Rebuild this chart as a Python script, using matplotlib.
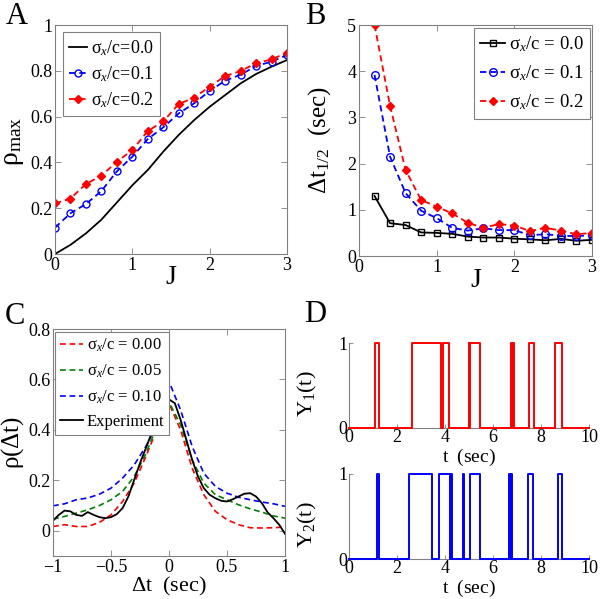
import numpy as np
import matplotlib
matplotlib.use("Agg")
import matplotlib.pyplot as plt

plt.rcParams["font.family"] = ["Liberation Serif", "DejaVu Serif"]
plt.rcParams["mathtext.fontset"] = "custom"
plt.rcParams["mathtext.rm"] = "Liberation Serif"
plt.rcParams["mathtext.it"] = "Liberation Serif:italic"
plt.rcParams["mathtext.bf"] = "Liberation Serif:bold"

# ---- panel A: rho_max vs J
J_a = [0.0, 0.2, 0.4, 0.6, 0.8, 1.0, 1.2, 1.4, 1.6, 1.8, 2.0, 2.2, 2.4, 2.6, 2.8, 3.0]
rho_s00 = [0.0, 0.04, 0.09, 0.15, 0.225, 0.30, 0.367, 0.447, 0.52, 0.585, 0.643, 0.694,
           0.745, 0.786, 0.818, 0.847]
rho_s01 = [0.115, 0.178, 0.218, 0.275, 0.361, 0.425, 0.502, 0.553, 0.614, 0.658, 0.712,
           0.757, 0.783, 0.821, 0.84, 0.869]
rho_s02 = [0.221, 0.242, 0.306, 0.342, 0.403, 0.454, 0.537, 0.579, 0.655, 0.683, 0.731,
           0.777, 0.799, 0.833, 0.85, 0.879]

# ---- panel B: half-width vs J
J_b = [0.2, 0.4, 0.6, 0.8, 1.0, 1.2, 1.4, 1.6, 1.8, 2.0, 2.2, 2.4, 2.6, 2.8, 3.0]
dt_s00 = [1.30, 0.71, 0.67, 0.51, 0.50, 0.48, 0.42, 0.40, 0.40, 0.375, 0.36, 0.34, 0.37, 0.33, 0.35]
dt_s01 = [3.92, 2.15, 1.36, 0.98, 0.82, 0.61, 0.55, 0.60, 0.56, 0.56, 0.45, 0.47, 0.44, 0.43, 0.45]
dt_s02 = [5.0, 3.25, 1.86, 1.21, 1.07, 0.92, 0.72, 0.61, 0.69, 0.66, 0.54, 0.61, 0.55, 0.47, 0.50]

# ---- panel C: cross-correlation vs lag
lag_model = [-1.0, -0.9, -0.8, -0.7, -0.6, -0.5, -0.4, -0.3, -0.2, -0.1, 0.0,
             0.1, 0.2, 0.3, 0.4, 0.5, 0.6, 0.7, 0.8, 0.9, 1.0]
cc_s000 = [0.017, 0.024, 0.017, 0.017, 0.033, 0.063, 0.116, 0.189, 0.294, 0.407, 0.505,
           0.40, 0.248, 0.143, 0.077, 0.044, 0.024, 0.012, 0.011, 0.012, 0.015]
cc_s005 = [0.046, 0.057, 0.07, 0.083, 0.10, 0.123, 0.156, 0.215, 0.305, 0.42, 0.51,
           0.42, 0.281, 0.189, 0.143, 0.123, 0.103, 0.087, 0.074, 0.059, 0.05]
cc_s010 = [0.099, 0.107, 0.123, 0.13, 0.145, 0.169, 0.209, 0.261, 0.334, 0.426, 0.592,
           0.479, 0.334, 0.228, 0.176, 0.149, 0.133, 0.123, 0.114, 0.107, 0.097]
lag_exp = [-1.0, -0.95, -0.9, -0.85, -0.8, -0.75, -0.7, -0.65, -0.6, -0.55, -0.5,
           -0.45, -0.4, -0.35, -0.3, -0.25, -0.2, -0.15, -0.1, -0.05, 0.0,
           0.05, 0.1, 0.15, 0.2, 0.25, 0.3, 0.35, 0.4, 0.45, 0.5,
           0.55, 0.6, 0.65, 0.7, 0.75, 0.8, 0.85, 0.9, 0.95, 1.0]
cc_exp = [0.04, 0.063, 0.08, 0.077, 0.063, 0.059, 0.074, 0.063, 0.054, 0.05, 0.054,
          0.066, 0.09, 0.136, 0.202, 0.268, 0.327, 0.387, 0.442, 0.495, 0.521,
          0.506, 0.44, 0.36, 0.281, 0.215, 0.169, 0.143, 0.129, 0.119, 0.116,
          0.125, 0.136, 0.147, 0.149, 0.136, 0.11, 0.073, 0.05, 0.024, -0.012]

# ---- panel D: binary traces (switch-on / switch-off times, sec)
y1_on = [1.08, 2.61, 3.93, 4.98, 5.06, 6.73, 6.82, 7.50, 8.58]
y1_off = [1.26, 3.85, 4.15, 5.02, 5.46, 6.78, 6.86, 7.69, 8.86]
y2_on = [1.15, 2.52, 3.77, 4.26, 4.75, 5.04, 6.66, 6.75, 7.45, 8.70]
y2_off = [1.27, 3.47, 4.22, 4.31, 4.81, 5.45, 6.71, 6.81, 7.68, 8.87]

SPINE = "#808080"
DASH = (0, (3.5, 2.2))
SIG = r"$\mathrm{\sigma}_{x}$/c"


def style_box(ax):
    for s in ax.spines.values():
        s.set_color(SPINE)
        s.set_linewidth(0.8)
    ax.tick_params(direction="in", top=True, right=True, length=4, width=0.6,
                   color=SPINE, labelsize=13, pad=2)


def frame(lg):
    lg.get_frame().set_edgecolor(SPINE)
    lg.get_frame().set_linewidth(0.8)


def steps(on, off, t_end=10.0):
    t, y = [0.0], [0]
    for a, b in zip(on, off):
        t += [a, a, b, b]
        y += [0, 1, 1, 0]
    t.append(t_end)
    y.append(0)
    return t, y


fig = plt.figure(figsize=(6, 5.99), dpi=100)
W, H = 600.0, 599.0


def pos(x0, x1, y0, y1):
    return [x0 / W, 1 - y1 / H, (x1 - x0) / W, (y1 - y0) / H]


# ---------------- A
axA = fig.add_axes(pos(55, 287, 25, 254))
axA.plot(J_a, rho_s00, "-", color="k", lw=1.3, label=SIG + "=0.0")
axA.plot(J_a, rho_s01, linestyle=DASH, color="#0000ff", lw=1.3, marker="o", ms=5,
         mfc="none", mew=1.0, label=SIG + "=0.1")
axA.plot(J_a, rho_s02, linestyle=DASH, color="#ff0000", lw=1.3, marker="D", ms=4.5,
         mfc="#ff0000", label=SIG + "=0.2")
axA.set_xlim(0, 3)
axA.set_ylim(0, 1)
axA.set_xticks([0, 1, 2, 3])
axA.set_yticks([0, 0.2, 0.4, 0.6, 0.8, 1])
axA.set_yticklabels(["0", "0.2", "0.4", "0.6", "0.8", "1"])
style_box(axA)
axA.set_xlabel("J", fontsize=20)
axA.set_ylabel(r"$\mathrm{\rho_{max}}$", fontsize=20)
axA.xaxis.set_label_coords(0.5, -0.05)
axA.yaxis.set_label_coords(-0.125, 0.49)
frame(axA.legend(loc="upper left", bbox_to_anchor=(0.034, 0.969), borderaxespad=0,
                 fontsize=13, handlelength=1.0, handletextpad=0.2, labelspacing=0.35,
                 fancybox=False, framealpha=1, borderpad=0.35))

# ---------------- B
axB = fig.add_axes(pos(359, 592, 25, 256))
axB.plot(J_b, dt_s00, "-", color="k", lw=1.3, marker="s", ms=5, mfc="none", mew=1.0,
         label=SIG + " = 0.0")
axB.plot(J_b, dt_s01, linestyle=DASH, color="#0000ff", lw=1.3, marker="o", ms=5.5,
         mfc="none", mew=1.0, label=SIG + " = 0.1")
axB.plot(J_b, dt_s02, linestyle=DASH, color="#ff0000", lw=1.3, marker="D", ms=4.5,
         mfc="#ff0000", label=SIG + " = 0.2")
axB.set_xlim(0, 3)
axB.set_ylim(0, 5)
axB.set_xticks([0, 1, 2, 3])
axB.set_yticks([0, 1, 2, 3, 4, 5])
style_box(axB)
axB.set_xlabel("J", fontsize=20)
axB.set_ylabel(r"$\mathrm{\Delta t_{1/2}\ \ (sec)}$", fontsize=18)
axB.xaxis.set_label_coords(0.5, -0.05)
axB.yaxis.set_label_coords(-0.11, 0.5)
frame(axB.legend(loc="upper right", bbox_to_anchor=(0.991, 0.987), borderaxespad=0,
                 fontsize=13.5, handlelength=1.3, handletextpad=0.2, labelspacing=0.5,
                 fancybox=False, framealpha=1, borderpad=0.35))

# ---------------- C
axC = fig.add_axes(pos(53, 285, 329, 556))
axC.plot(lag_model, cc_s000, linestyle=DASH, color="#ff0000", lw=1.2, label=SIG + " = 0.00")
axC.plot(lag_model, cc_s005, linestyle=DASH, color="#008000", lw=1.2, label=SIG + " = 0.05")
axC.plot(lag_model, cc_s010, linestyle=DASH, color="#0000ff", lw=1.2, label=SIG + " = 0.10")
axC.plot(lag_exp, cc_exp, "-", color="k", lw=1.3, label="Experiment")
axC.set_xlim(-1, 1)
axC.set_ylim(-0.1, 0.8)
axC.set_xticks([-1, -0.5, 0, 0.5, 1])
axC.set_xticklabels(["\u22121", "\u22120.5", "0", "0.5", "1"])
axC.set_yticks([0, 0.2, 0.4, 0.6, 0.8])
axC.set_yticklabels(["0", "0.2", "0.4", "0.6", "0.8"])
style_box(axC)
axC.set_xlabel(r"$\mathrm{\Delta t\ \ (sec)}$", fontsize=16)
axC.set_ylabel(r"$\mathrm{\rho(\Delta t)}$", fontsize=18)
axC.xaxis.set_label_coords(0.5, -0.085)
axC.yaxis.set_label_coords(-0.115, 0.5)
frame(axC.legend(loc="upper left", bbox_to_anchor=(0.009, 0.987), borderaxespad=0,
                 fontsize=12, handlelength=1.4, handletextpad=0.2, labelspacing=0.5,
                 fancybox=False, framealpha=1, borderpad=0.3))

# ---------------- D
for (y0, y1), on, off, col, lab in [((343, 428), y1_on, y1_off, "#ff0000", r"$\mathrm{Y_1(t)}$"),
                                    ((474, 559), y2_on, y2_off, "#0000ff", r"$\mathrm{Y_2(t)}$")]:
    ax = fig.add_axes(pos(349, 589, y0, y1))
    t, y = steps(on, off)
    ax.plot(t, y, "-", color=col, lw=1.4, clip_on=False, zorder=3)
    ax.set_xlim(0, 10)
    ax.set_ylim(0, 1)
    ax.set_xticks([0, 2, 4, 6, 8, 10])
    ax.set_yticks([0, 1])
    for s in ("top", "right"):
        ax.spines[s].set_visible(False)
    for s in ("left", "bottom"):
        ax.spines[s].set_color(SPINE)
        ax.spines[s].set_linewidth(0.8)
    ax.tick_params(direction="in", length=3, width=0.6, color=SPINE, labelsize=13, pad=1)
    ax.set_xlabel(r"$\mathrm{t\ \ (sec)}$", fontsize=14)
    ax.set_ylabel(lab, fontsize=16)
    ax.xaxis.set_label_coords(0.5, -0.225)
    ax.yaxis.set_label_coords(-0.125, 0.4)

# panel letters
for ch, x, y in [("A", 6, 17), ("B", 305, 17), ("C", 5, 317), ("D", 304, 315)]:
    fig.text(x / W, 1 - y / H, ch, fontsize=22, ha="left", va="center")

fig.savefig("out.png", dpi=100)
